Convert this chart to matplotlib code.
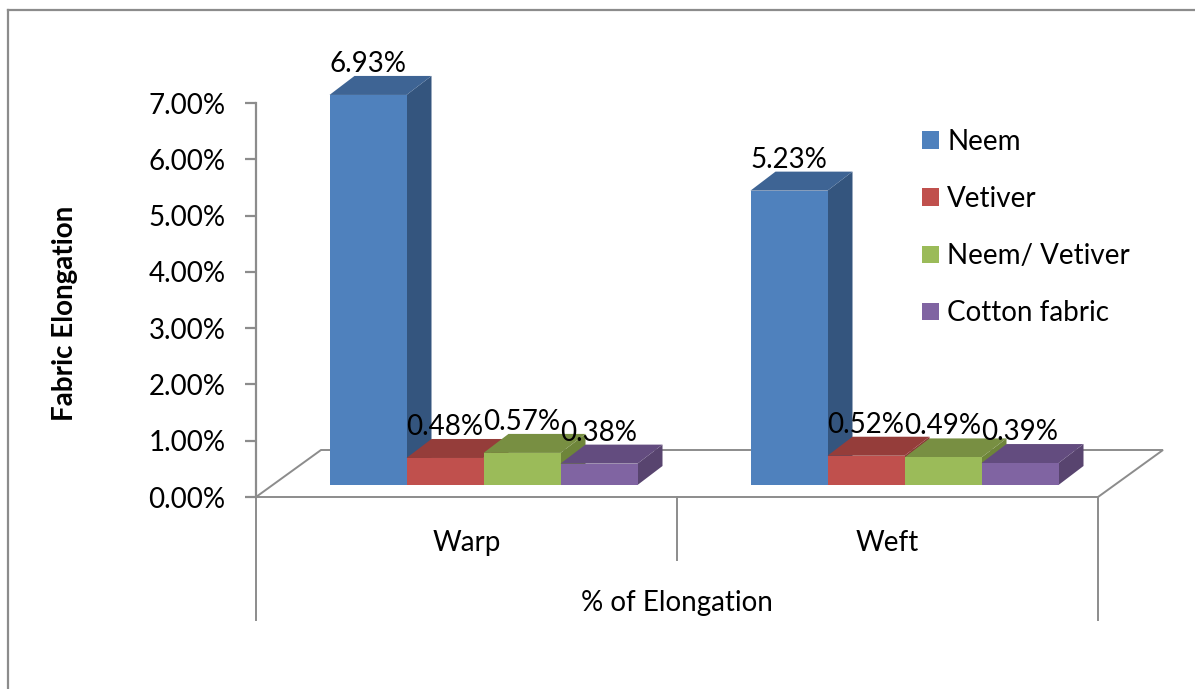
import matplotlib
matplotlib.use("Agg")
import matplotlib.pyplot as plt
from matplotlib.patches import Polygon, Rectangle
from matplotlib.lines import Line2D

# ---- data -------------------------------------------------------------
categories = ["Warp", "Weft"]
series_names = ["Neem", "Vetiver", "Neem/ Vetiver", "Cotton fabric"]
neem = [6.93, 5.23]
vetiver = [0.48, 0.52]
neem_vetiver = [0.57, 0.49]
cotton = [0.38, 0.39]
y_ticks = [0, 1, 2, 3, 4, 5, 6, 7]
y_tick_labels = ["0.00%", "1.00%", "2.00%", "3.00%", "4.00%", "5.00%", "6.00%", "7.00%"]

series_values = [neem, vetiver, neem_vetiver, cotton]

# ---- styling ----------------------------------------------------------
front_colors = ["#4F81BD", "#C0504D", "#9BBB59", "#8064A2"]
top_colors = ["#3E6494", "#953D3A", "#788F42", "#634C7F"]
side_colors = ["#34557E", "#893835", "#6E853A", "#58446F"]
grid_grey = "#8C8C8C"
FONT = 20

plt.rcParams["font.family"] = ["Lato", "DejaVu Sans"]

FW, FH = 1195, 689
fig = plt.figure(figsize=(FW / 100, FH / 100), dpi=100)
ax = fig.add_axes([256 / FW, (FH - 497) / FH, (1098 - 256) / FW, (497 - 103) / FH])
ax.set_xlim(0, len(categories))
ax.set_ylim(0, 7)
ax.patch.set_alpha(0)

# pixel -> data unit helpers (axes geometry is fixed above)
ax_w_px = (1098 - 256)
ax_h_px = (497 - 103)
def ux(px):
    return px * (ax.get_xlim()[1] - ax.get_xlim()[0]) / ax_w_px
def uy(px):
    return px * (ax.get_ylim()[1] - ax.get_ylim()[0]) / ax_h_px

# 3-D projection offsets
floor_dx, floor_dy = ux(65), uy(47)
front_dx, front_dy = ux(17), uy(12)
depth_dx, depth_dy = ux(25), uy(19)
bar_w = ux(77)
group_w = bar_w * len(series_names)

# floor outline
floor = Polygon([(0, 0), (2, 0), (2 + floor_dx, floor_dy), (floor_dx, floor_dy)],
                closed=True, facecolor="none", edgecolor=grid_grey, lw=1.4,
                clip_on=False, zorder=1)
ax.add_patch(floor)

# category divider lines below the floor
for xv, depth in [(0, 123), (1, 63), (2, 123)]:
    ax.add_line(Line2D([xv, xv], [0, -uy(depth)], color=grid_grey, lw=1.4,
                       clip_on=False, zorder=1))

# bars
z = 2
for j, cat in enumerate(categories):
    left0 = j + 0.5 - group_w / 2 + front_dx
    for i, vals in enumerate(series_values):
        v = vals[j]
        x0 = left0 + i * bar_w
        x1 = x0 + bar_w
        y0 = front_dy
        y1 = front_dy + v
        side = Polygon([(x1, y0), (x1 + depth_dx, y0 + depth_dy),
                        (x1 + depth_dx, y1 + depth_dy), (x1, y1)],
                       facecolor=side_colors[i], edgecolor="none", clip_on=False, zorder=z)
        top = Polygon([(x0, y1), (x1, y1), (x1 + depth_dx, y1 + depth_dy),
                       (x0 + depth_dx, y1 + depth_dy)],
                      facecolor=top_colors[i], edgecolor="none", clip_on=False, zorder=z)
        front = Rectangle((x0, y0), bar_w, v, facecolor=front_colors[i],
                          edgecolor="none", clip_on=False, zorder=z)
        ax.add_patch(side)
        ax.add_patch(top)
        ax.add_patch(front)
        z += 1
    for i, vals in enumerate(series_values):
        v = vals[j]
        cx = left0 + i * bar_w + bar_w / 2
        ax.annotate(f"{v:.2f}%", xy=(cx, v + front_dy), xytext=(0, 31),
                    textcoords="offset pixels", ha="center", va="center",
                    fontsize=FONT, color="black", zorder=50, annotation_clip=False)

# axes styling
for s in ["top", "right", "bottom"]:
    ax.spines[s].set_visible(False)
ax.spines["left"].set_color(grid_grey)
ax.spines["left"].set_linewidth(1.6)
ax.set_yticks(y_ticks)
ax.set_yticklabels(y_tick_labels)
ax.tick_params(axis="y", direction="out", length=8, width=1.6, color=grid_grey,
               labelsize=FONT, pad=14)
ax.set_xticks([j + 0.5 for j in range(len(categories))])
ax.set_xticklabels(categories)
ax.tick_params(axis="x", length=0, labelsize=FONT, pad=24)

ax.text(0.5, -106 / ax_h_px, "% of Elongation", transform=ax.transAxes,
        ha="center", va="center", fontsize=FONT)
ax.text(-191 / ax_w_px, (497 - 313) / ax_h_px, "Fabric Elongation", transform=ax.transAxes,
        rotation=90, ha="center", va="center", fontsize=FONT, fontweight="bold")

# legend
handles = [Rectangle((0, 0), 1, 1, facecolor=c, edgecolor="none") for c in front_colors]
ax.legend(handles, series_names, loc="upper left",
          bbox_to_anchor=(922 / FW, 1 - 129 / FH), bbox_transform=fig.transFigure,
          frameon=False, fontsize=FONT, handlelength=0.6, handleheight=0.6,
          handletextpad=0.3, labelspacing=1.12, borderpad=0, borderaxespad=0)

# chart-area border
fig.add_artist(Line2D([8 / FW, 8 / FW], [0, 1 - 10 / FH], transform=fig.transFigure,
                      color=grid_grey, lw=1.6))
fig.add_artist(Line2D([8 / FW, 1], [1 - 10 / FH, 1 - 10 / FH], transform=fig.transFigure,
                      color=grid_grey, lw=1.6))

fig.savefig("out.png", dpi=100)
